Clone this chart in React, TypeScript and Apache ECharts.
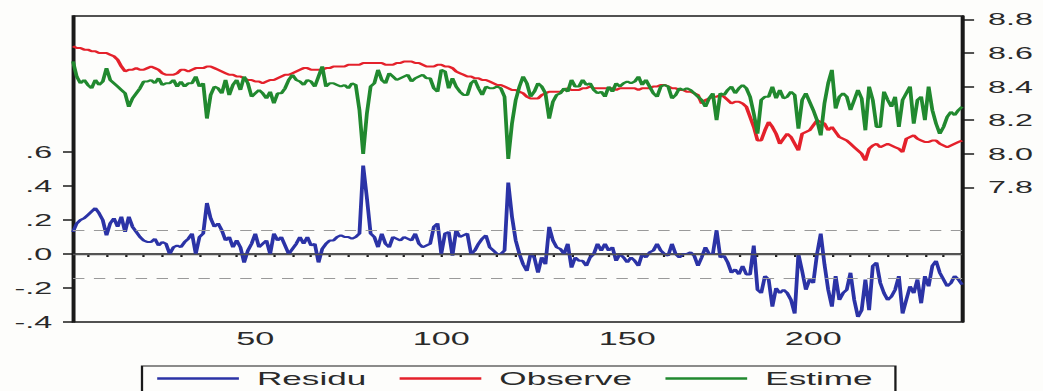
import React, { useEffect, useRef } from "react";
import * as echarts from "echarts";

// ---- data (observation 1..240) ----
const residu = [
  0.13, 0.18, 0.2, 0.21, 0.23, 0.25, 0.27, 0.24, 0.2, 0.11,
  0.18, 0.21, 0.16, 0.22, 0.13, 0.22, 0.16, 0.13, 0.1, 0.08,
  0.07, 0.07, 0.09, 0.05, 0.07, 0.06, 0.0, 0.04, 0.05, 0.04,
  0.07, 0.09, 0.12, 0.0, 0.1, 0.12, 0.3, 0.21, 0.16, 0.18,
  0.14, 0.08, 0.1, 0.04, 0.08, 0.04, -0.05, 0.02, 0.06, 0.12,
  0.04, 0.06, 0.08, 0.0, 0.12, 0.08, 0.1, 0.05, 0.0, 0.03,
  0.06, 0.1, 0.06, 0.1, 0.05, 0.06, -0.05, 0.03, 0.06, 0.08,
  0.08, 0.1, 0.11, 0.1, 0.1, 0.09, 0.1, 0.12, 0.52, 0.33,
  0.12, 0.1, 0.04, 0.12, 0.06, 0.04, 0.1, 0.09, 0.08, 0.1,
  0.09, 0.08, 0.12, 0.06, 0.04, 0.05, 0.06, 0.16, 0.18, 0.0,
  0.12, 0.13, -0.01, 0.14, 0.1, 0.11, 0.12, 0.0, 0.02, 0.06,
  0.09, 0.11, 0.04, 0.02, 0.0, 0.0, 0.02, 0.42, 0.22, 0.08,
  0.0, -0.06, -0.1, 0.0, -0.02, -0.11, -0.02, -0.06, 0.16, 0.08,
  0.04, 0.03, 0.0, 0.06, -0.08, -0.02, -0.04, -0.04, -0.07, -0.02,
  0.0, 0.06, 0.02, 0.06, 0.02, 0.04, -0.04, 0.0, -0.02, -0.05,
  -0.02, -0.04, -0.07, 0.0, -0.02, 0.01, 0.02, 0.06, 0.02, 0.0,
  -0.01, 0.06, 0.0, -0.02, 0.0, 0.0, 0.01, -0.01, -0.07, -0.02,
  0.04, 0.0, 0.0, 0.14, -0.02, -0.01, -0.05, -0.11, -0.09, -0.12,
  -0.07, -0.12, -0.12, 0.05, -0.21, -0.23, -0.13, -0.15, -0.31, -0.2,
  -0.23, -0.21, -0.23, -0.27, -0.35, 0.0, -0.1, -0.21, -0.15, -0.17,
  0.0, 0.12, -0.06, -0.21, -0.31, -0.13, -0.27, -0.23, -0.21, -0.11,
  -0.27, -0.37, -0.33, -0.15, -0.33, -0.07, -0.05, -0.17, -0.23, -0.27,
  -0.25, -0.21, -0.13, -0.35, -0.27, -0.19, -0.23, -0.15, -0.29, -0.13,
  -0.19, -0.07, -0.04, -0.11, -0.15, -0.19, -0.17, -0.13, -0.15, -0.18,
];

const observe = [
  8.64, 8.63, 8.63, 8.62, 8.62, 8.61, 8.61, 8.6, 8.6, 8.6,
  8.59, 8.58, 8.56, 8.52, 8.49, 8.5, 8.5, 8.51, 8.5, 8.5,
  8.51, 8.52, 8.51, 8.5, 8.48, 8.47, 8.47, 8.47, 8.48, 8.5,
  8.5, 8.49, 8.5, 8.51, 8.51, 8.51, 8.52, 8.52, 8.51, 8.5,
  8.49, 8.48, 8.47, 8.47, 8.46, 8.46, 8.45, 8.44, 8.44, 8.43,
  8.43, 8.42, 8.43, 8.44, 8.44, 8.45, 8.46, 8.47, 8.47, 8.48,
  8.49, 8.5, 8.51, 8.51, 8.5, 8.5, 8.5, 8.5, 8.51, 8.51,
  8.52, 8.52, 8.52, 8.52, 8.53, 8.53, 8.53, 8.53, 8.54, 8.54,
  8.54, 8.54, 8.54, 8.54, 8.53, 8.53, 8.53, 8.54, 8.54, 8.55,
  8.55, 8.55, 8.54, 8.54, 8.53, 8.52, 8.52, 8.52, 8.53, 8.53,
  8.52, 8.52, 8.51, 8.49, 8.48, 8.47, 8.46, 8.46, 8.45, 8.45,
  8.44, 8.44, 8.43, 8.42, 8.41, 8.41, 8.4, 8.39, 8.38, 8.38,
  8.37, 8.36, 8.34, 8.33, 8.33, 8.33, 8.35, 8.36, 8.37, 8.37,
  8.37, 8.37, 8.38, 8.39, 8.38, 8.38, 8.38, 8.39, 8.39, 8.4,
  8.39, 8.39, 8.39, 8.39, 8.39, 8.39, 8.38, 8.39, 8.39, 8.39,
  8.39, 8.39, 8.38, 8.39, 8.39, 8.39, 8.4, 8.4, 8.41, 8.41,
  8.4, 8.39, 8.39, 8.38, 8.38, 8.37, 8.37, 8.36, 8.35, 8.3,
  8.32, 8.33, 8.34, 8.34, 8.35, 8.34, 8.32, 8.3, 8.31, 8.31,
  8.3, 8.28, 8.22, 8.16, 8.08, 8.08, 8.14, 8.19, 8.16, 8.12,
  8.06, 8.09, 8.12, 8.1, 8.06, 8.02, 8.12, 8.13, 8.14, 8.17,
  8.2, 8.19, 8.18, 8.14, 8.16, 8.13, 8.1, 8.09, 8.08, 8.06,
  8.04, 8.02, 8.0, 7.96, 8.03, 8.05, 8.06, 8.04, 8.05, 8.06,
  8.05, 8.04, 8.03, 8.01, 8.09, 8.1, 8.11, 8.09, 8.08, 8.07,
  8.07, 8.08, 8.08, 8.06, 8.05, 8.04, 8.05, 8.06, 8.07, 8.08,
];

const estime = [
  8.55, 8.46, 8.42, 8.44, 8.41, 8.39, 8.44, 8.41, 8.43, 8.51,
  8.44, 8.42, 8.4, 8.38, 8.36, 8.28, 8.33, 8.36, 8.39, 8.43,
  8.43, 8.44, 8.42, 8.45, 8.41, 8.42, 8.42, 8.44, 8.4, 8.43,
  8.4, 8.42, 8.42, 8.46, 8.4, 8.42, 8.21, 8.35, 8.4, 8.39,
  8.36, 8.44, 8.35, 8.41, 8.44, 8.38, 8.46, 8.42, 8.34, 8.36,
  8.38, 8.36, 8.33, 8.37, 8.3, 8.36, 8.36, 8.39, 8.44, 8.47,
  8.44, 8.43, 8.41, 8.44, 8.43, 8.4, 8.46, 8.52, 8.4, 8.42,
  8.42, 8.41, 8.4, 8.41, 8.39, 8.42, 8.41, 8.26, 8.0, 8.24,
  8.4, 8.42, 8.5, 8.44, 8.42, 8.48, 8.46, 8.44, 8.45, 8.46,
  8.47, 8.43, 8.45, 8.46, 8.47, 8.45, 8.45, 8.39, 8.37, 8.5,
  8.49, 8.39, 8.45, 8.4, 8.37, 8.35, 8.35, 8.42, 8.44, 8.39,
  8.35, 8.4, 8.39, 8.39, 8.4, 8.39, 8.34, 7.97, 8.18, 8.32,
  8.4, 8.46, 8.42, 8.34, 8.37, 8.42, 8.4, 8.36, 8.21, 8.31,
  8.35, 8.36, 8.39, 8.37, 8.44, 8.4, 8.4, 8.44, 8.41, 8.42,
  8.38, 8.36, 8.37, 8.34, 8.4, 8.37, 8.42, 8.4, 8.42, 8.43,
  8.42, 8.43, 8.46, 8.41, 8.44, 8.4, 8.36, 8.34, 8.4, 8.41,
  8.4, 8.33, 8.35, 8.39, 8.38, 8.39, 8.38, 8.36, 8.34, 8.32,
  8.28, 8.33, 8.36, 8.2, 8.36, 8.35, 8.38, 8.4, 8.36, 8.39,
  8.41, 8.39, 8.34, 8.24, 8.12, 8.32, 8.34, 8.34, 8.4, 8.33,
  8.38, 8.33, 8.34, 8.37, 8.35, 8.15, 8.32, 8.36, 8.31, 8.26,
  8.2, 8.11, 8.3, 8.42, 8.5, 8.27, 8.34, 8.36, 8.34, 8.26,
  8.32, 8.38, 8.33, 8.14, 8.4, 8.32, 8.16, 8.16, 8.37, 8.32,
  8.28, 8.34, 8.16, 8.32, 8.36, 8.4, 8.18, 8.32, 8.34, 8.2,
  8.4, 8.26, 8.18, 8.12, 8.16, 8.22, 8.25, 8.23, 8.26, 8.28,
];

const seriesNames = ["Residu", "Observe", "Estime"];
const seriesColors = ["#2b33a6", "#e4212b", "#21892f"];
const xLabelValues = [50, 100, 150, 200];
const leftLabelValues = [-0.4, -0.2, 0, 0.2, 0.4, 0.6];
const rightLabelValues = [7.8, 8.0, 8.2, 8.4, 8.6, 8.8];
const bandLimit = 0.145;

// the reference picture is stretched horizontally
const S = 1.9;
const W = 1043 / S;
const H = 391;

const pairs = (arr: number[]) => arr.map((v, i) => [i + 1, v]);
const xMinorTicks: number[] = [];
for (let t = 5; t <= 240; t += 5) xMinorTicks.push(t);

const FONT = "'Liberation Sans', Arial, sans-serif";
const TXT = "#2a2a2a";

export default function App() {
  const ref = useRef<HTMLDivElement>(null);

  useEffect(() => {
    if (!ref.current) return;
    const chart = echarts.init(ref.current, undefined, { renderer: "svg" });
    chart.setOption({
      animation: false,
      backgroundColor: "#fdfdfb",
      grid: {
        left: 73 / S,
        right: W - 962 / S,
        top: 16,
        bottom: H - 322,
        show: true,
        borderColor: "#1a1a1a",
        borderWidth: 1.5,
        backgroundColor: "transparent",
      },
      legend: {
        data: seriesNames,
        left: 142 / S,
        top: 366,
        orient: "horizontal",
        icon: "rect",
        itemWidth: 43,
        itemHeight: 2.5,
        itemGap: 17.5,
        padding: [3, 12, 8, 8],
        borderColor: "#1a1a1a",
        borderWidth: 1.2,
        textStyle: {
          fontFamily: FONT,
          fontSize: 18.5,
          color: TXT,
          padding: [0, 0, 0, 4.5],
        },
      },
      xAxis: {
        type: "value",
        min: 1,
        max: 240,
        axisLine: { show: true, lineStyle: { color: "#1a1a1a", width: 1.5 } },
        axisTick: {
          show: true,
          inside: false,
          length: 3,
          customValues: xMinorTicks,
          lineStyle: { color: "#1a1a1a", width: 1.2 },
        },
        axisLabel: {
          customValues: xLabelValues,
          fontFamily: FONT,
          fontSize: 18,
          color: TXT,
          margin: 8,
        },
        splitLine: { show: false },
      },
      yAxis: [
        {
          type: "value",
          position: "left",
          min: -0.4,
          max: 1.4,
          axisLine: { show: true, lineStyle: { color: "#1a1a1a", width: 1.5 } },
          axisTick: {
            show: true,
            length: 10 / S,
            customValues: leftLabelValues,
            lineStyle: { color: "#1a1a1a", width: 1.5 },
          },
          axisLabel: {
            customValues: leftLabelValues,
            fontFamily: FONT,
            fontSize: 17,
            color: TXT,
            margin: 11,
            formatter: (v: number) => {
              const s = Math.abs(v) < 1e-9 ? "0.0" : v.toFixed(1);
              return s.replace("0.", ".");
            },
          },
          splitLine: { show: false },
        },
        {
          type: "value",
          position: "right",
          min: 7.0,
          max: 8.82,
          axisLine: { show: true, lineStyle: { color: "#1a1a1a", width: 1.5 } },
          axisTick: {
            show: true,
            length: 12 / S,
            customValues: rightLabelValues,
            lineStyle: { color: "#1a1a1a", width: 1.5 },
          },
          axisLabel: {
            customValues: rightLabelValues,
            fontFamily: FONT,
            fontSize: 17,
            color: TXT,
            margin: 26 / S,
            formatter: (v: number) => v.toFixed(1),
          },
          splitLine: { show: false },
        },
      ],
      series: [
        {
          name: seriesNames[0],
          type: "line",
          yAxisIndex: 0,
          data: pairs(residu),
          showSymbol: false,
          symbol: "none",
          color: seriesColors[0],
          lineStyle: { width: 2, color: seriesColors[0] },
          z: 3,
          markLine: {
            silent: true,
            symbol: "none",
            label: { show: false },
            data: [
              { yAxis: 0, lineStyle: { color: "#555", width: 1.3, type: "solid" } },
              { yAxis: bandLimit, lineStyle: { color: "#9a9a9a", width: 1.1, type: [6, 5] } },
              { yAxis: -bandLimit, lineStyle: { color: "#9a9a9a", width: 1.1, type: [6, 5] } },
            ],
          },
        },
        {
          name: seriesNames[1],
          type: "line",
          yAxisIndex: 1,
          data: pairs(observe),
          showSymbol: false,
          symbol: "none",
          color: seriesColors[1],
          lineStyle: { width: 2, color: seriesColors[1] },
          z: 4,
        },
        {
          name: seriesNames[2],
          type: "line",
          yAxisIndex: 1,
          data: pairs(estime),
          showSymbol: false,
          symbol: "none",
          color: seriesColors[2],
          lineStyle: { width: 2, color: seriesColors[2] },
          z: 5,
        },
      ],
    });
    return () => chart.dispose();
  }, []);

  return (
    <div
      style={{
        position: "fixed",
        left: 0,
        top: 0,
        width: 1043,
        height: H,
        overflow: "hidden",
        background: "#fdfdfb",
      }}
    >
      <div
        ref={ref}
        style={{
          width: W,
          height: H,
          transform: `scaleX(${S})`,
          transformOrigin: "0 0",
        }}
      />
    </div>
  );
}
